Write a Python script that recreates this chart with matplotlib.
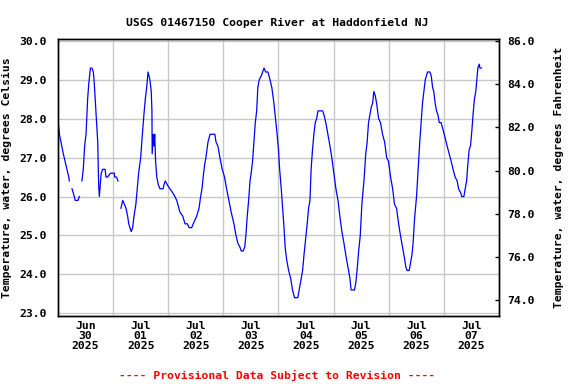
import numpy as np
import pandas as pd
import matplotlib
matplotlib.use("Agg")
import matplotlib.pyplot as plt
import matplotlib.dates as mdates
from matplotlib.ticker import FixedLocator, FormatStrFormatter

# hours after 2025-06-30 00:00, nan = gap in record
hours = [0.3, 0.6, 1.3, 2.3, 3.5, 4.7, 4.9, np.nan,
         6.1, 7.1, 7.5, 8.7, 9.3, np.nan,
         10.4, 11.0, 11.6, 12.2, 12.5, 12.9, 13.4, 14.1, 14.8, 15.4, 15.8, 16.2,
         16.8, 17.3, 17.7, 18.0, 18.4, 18.8, 19.5, 20.5, 20.9, 21.6, 22.8, 24.5,
         24.7, 25.5, 26.1, np.nan,
         27.4, 28.2, 28.9, 29.6, 30.3, 30.8, 31.3, 31.9, 32.5, 33.1, 33.9, 34.5,
         35.1, 36.0, 36.6, 37.4, 38.0, 38.6, 39.2, 40.0, 40.6, 40.9, 41.0, 41.5,
         41.8, 42.1, 42.5, 43.0, 43.7, 44.4, 45.8, 46.1, 46.7, 47.6, 48.7, 49.9,
         50.9, 51.7, 53.1, 54.3, 55.3, 56.3, 57.1, 58.2, 58.9, 60.4, 61.4, 62.1,
         62.7, 63.2, 63.8, 64.4, 65.3, 66.2, 68.3, 68.8, 69.6, 70.5, 71.5, 72.5,
         73.4, 74.4, 75.4, 76.6, 77.5, 78.3, 79.2, 79.8, 80.6, 81.3, 81.8, 82.4,
         83.0, 83.6, 84.1, 84.7, 85.3, 85.9, 86.5, 87.0, 87.6, 88.5, 89.1, 89.7,
         90.4, 91.4, 92.3, 93.1, 94.0, 94.9, 95.4, 96.0, 96.5, 97.2, 97.8, 98.4,
         98.9, 99.5, 100.4, 101.3, 102.1, 103.0, 104.4, 105.0, 105.9, 106.5, 107.1,
         107.8, 108.5, 109.1, 109.7, 110.2, 110.8, 111.4, 112.0, 112.6, 113.2,
         115.2, 115.8, 116.6, 117.5, 118.4, 119.2, 120.1, 121.0, 121.9, 122.7,
         123.6, 124.5, 125.3, 126.2, 127.1, 127.6, 129.1, 129.7, 130.2, 130.9,
         131.6, 132.3, 133.2, 134.0, 134.6, 135.2, 135.8, 136.4, 137.0, 137.5,
         138.1, 138.7, 139.6, 140.4, 141.3, 142.2, 143.1, 143.9, 144.8, 145.7,
         146.5, 147.4, 148.3, 149.1, 150.0, 150.9, 151.4, 152.0, 152.9, 153.5,
         154.1, 154.6, 155.2, 156.1, 157.0, 157.5, 158.1, 158.7, 159.3, 159.9,
         160.9, 161.9, 162.5, 163.1, 163.6, 164.2, 164.8, 165.4, 166.0, 166.8,
         167.7, 168.6, 169.4, 170.3, 171.2, 172.0, 172.9, 173.8, 174.4, 175.3,
         175.8, 176.7, 177.3, 177.9, 178.4, 179.0, 179.6, 180.2, 180.7, 181.3,
         181.9, 182.5, 182.8, 183.4, 183.7, 184.3]
temp_c = [27.8, 27.6, 27.4, 27.1, 26.8, 26.5, 26.4, np.nan,
          26.2, 26.0, 25.9, 25.9, 26.0, np.nan,
          26.4, 26.7, 27.3, 27.6, 28.0, 28.5, 28.9, 29.3, 29.3, 29.2, 28.9, 28.5,
          27.9, 27.4, 26.3, 26.0, 26.3, 26.6, 26.7, 26.7, 26.5, 26.5, 26.6, 26.6,
          26.5, 26.5, 26.4, np.nan,
          25.7, 25.9, 25.8, 25.7, 25.5, 25.3, 25.2, 25.1, 25.2, 25.5, 25.8, 26.2,
          26.6, 27.0, 27.5, 28.1, 28.5, 28.8, 29.2, 29.0, 28.7, 28.2, 27.1, 27.6,
          27.3, 27.6, 26.9, 26.5, 26.3, 26.2, 26.2, 26.3, 26.4, 26.3, 26.2, 26.1,
          26.0, 25.9, 25.6, 25.5, 25.3, 25.3, 25.2, 25.2, 25.3, 25.5, 25.7, 26.0,
          26.2, 26.5, 26.8, 27.0, 27.4, 27.6, 27.6, 27.4, 27.3, 27.0, 26.7, 26.5,
          26.2, 25.9, 25.6, 25.3, 25.0, 24.8, 24.7, 24.6, 24.6, 24.7, 25.0, 25.5,
          25.9, 26.4, 26.6, 26.9, 27.4, 27.9, 28.2, 28.8, 29.0, 29.1, 29.2, 29.3,
          29.2, 29.2, 29.0, 28.8, 28.4, 27.9, 27.6, 27.2, 26.7, 26.2, 25.7, 25.2,
          24.7, 24.4, 24.1, 23.9, 23.6, 23.4, 23.4, 23.6, 23.9, 24.1, 24.5,
          24.9, 25.3, 25.7, 25.9, 26.7, 27.2, 27.6, 27.9, 28.0, 28.2,
          28.2, 28.1, 27.9, 27.6, 27.3, 27.0, 26.6, 26.2, 25.9, 25.5,
          25.1, 24.8, 24.5, 24.2, 23.9, 23.6, 23.6, 23.8, 24.1, 24.6,
          25.0, 25.8, 26.4, 27.1, 27.4, 27.9, 28.1, 28.3, 28.4, 28.7,
          28.6, 28.4, 28.0, 27.9, 27.6, 27.4, 27.0, 26.9, 26.5, 26.2,
          25.8, 25.7, 25.3, 25.0, 24.7, 24.4, 24.2, 24.1, 24.1, 24.3,
          24.5, 24.8, 25.4, 26.0, 26.9, 27.4, 27.9, 28.4, 28.7, 29.0,
          29.2, 29.2, 29.1, 28.8, 28.7, 28.4, 28.2, 28.1, 27.9, 27.9,
          27.7, 27.5, 27.3, 27.1, 26.9, 26.7, 26.5, 26.4, 26.2, 26.1,
          26.0, 26.0, 26.2, 26.4, 26.8, 27.2, 27.3, 27.7, 28.1, 28.5,
          28.7, 29.1, 29.3, 29.4, 29.3, 29.3]

day_labels = ["Jun\n30\n2025", "Jul\n01\n2025", "Jul\n02\n2025", "Jul\n03\n2025",
              "Jul\n04\n2025", "Jul\n05\n2025", "Jul\n06\n2025", "Jul\n07\n2025"]
c_ticks = [23, 24, 25, 26, 27, 28, 29, 30]
f_ticks = [74, 76, 78, 80, 82, 84, 86]

start = pd.Timestamp("2025-06-30")
times = [start + pd.Timedelta(hours=h) if not np.isnan(h) else pd.NaT for h in hours]
x = np.array([mdates.date2num(t) if t is not pd.NaT else np.nan for t in times])
y = np.array(temp_c)

plt.rcParams['font.family'] = 'DejaVu Sans Mono'
plt.rcParams['font.weight'] = 'bold'
fs = 8.2

fig = plt.figure(figsize=(5.76, 3.84), dpi=100)
ax = fig.add_axes([0.1007, 0.178, 0.7656, 0.7197])

ax.plot(x, y, color='#0000ff', lw=0.9)

x0 = mdates.date2num(start)
ax.set_xlim(x0, x0 + 8)
ylo, yhi = 22.94, 30.04
ax.set_ylim(ylo, yhi)

ax.xaxis.set_major_locator(FixedLocator([x0 + d for d in range(1, 8)]))
ax.xaxis.set_major_formatter(plt.NullFormatter())
ax.xaxis.set_minor_locator(FixedLocator([x0 + d + 0.5 for d in range(8)]))
ax.set_xticklabels(day_labels, minor=True, fontsize=fs, fontweight='bold', linespacing=1.0)
ax.tick_params(axis='x', which='both', length=0, pad=4)

ax.set_yticks(c_ticks)
ax.yaxis.set_major_formatter(FormatStrFormatter('%.1f'))
ax.tick_params(axis='y', length=0, pad=8, labelsize=fs)
ax.grid(True, which='major', color='#c8c8c8', lw=1.0)
ax.set_axisbelow(True)
ax.set_ylabel("Temperature, water, degrees Celsius", fontsize=fs, fontweight='bold')
ax.yaxis.set_label_coords(-0.104, 0.5)

ax2 = ax.twinx()
ax2.set_ylim(ylo * 1.8 + 32, yhi * 1.8 + 32)
ax2.set_yticks(f_ticks)
ax2.yaxis.set_major_formatter(FormatStrFormatter('%.1f'))
ax2.tick_params(axis='y', direction='in', length=3, width=1, pad=6, labelsize=fs)
ax2.set_ylabel("Temperature, water, degrees Fahrenheit", fontsize=fs, fontweight='bold')
ax2.yaxis.set_label_coords(1.124, 0.5)

for a in (ax, ax2):
    for s in a.spines.values():
        s.set_linewidth(1.0)
        s.set_color('black')

fig.text(0.4818, 0.94, "USGS 01467150 Cooper River at Haddonfield NJ",
         ha='center', va='center', fontsize=fs, fontweight='bold')
fig.text(0.4818, 0.0234, "---- Provisional Data Subject to Revision ----",
         ha='center', va='center', fontsize=fs, fontweight='bold', color='red')

fig.savefig("out.png", dpi=100)
